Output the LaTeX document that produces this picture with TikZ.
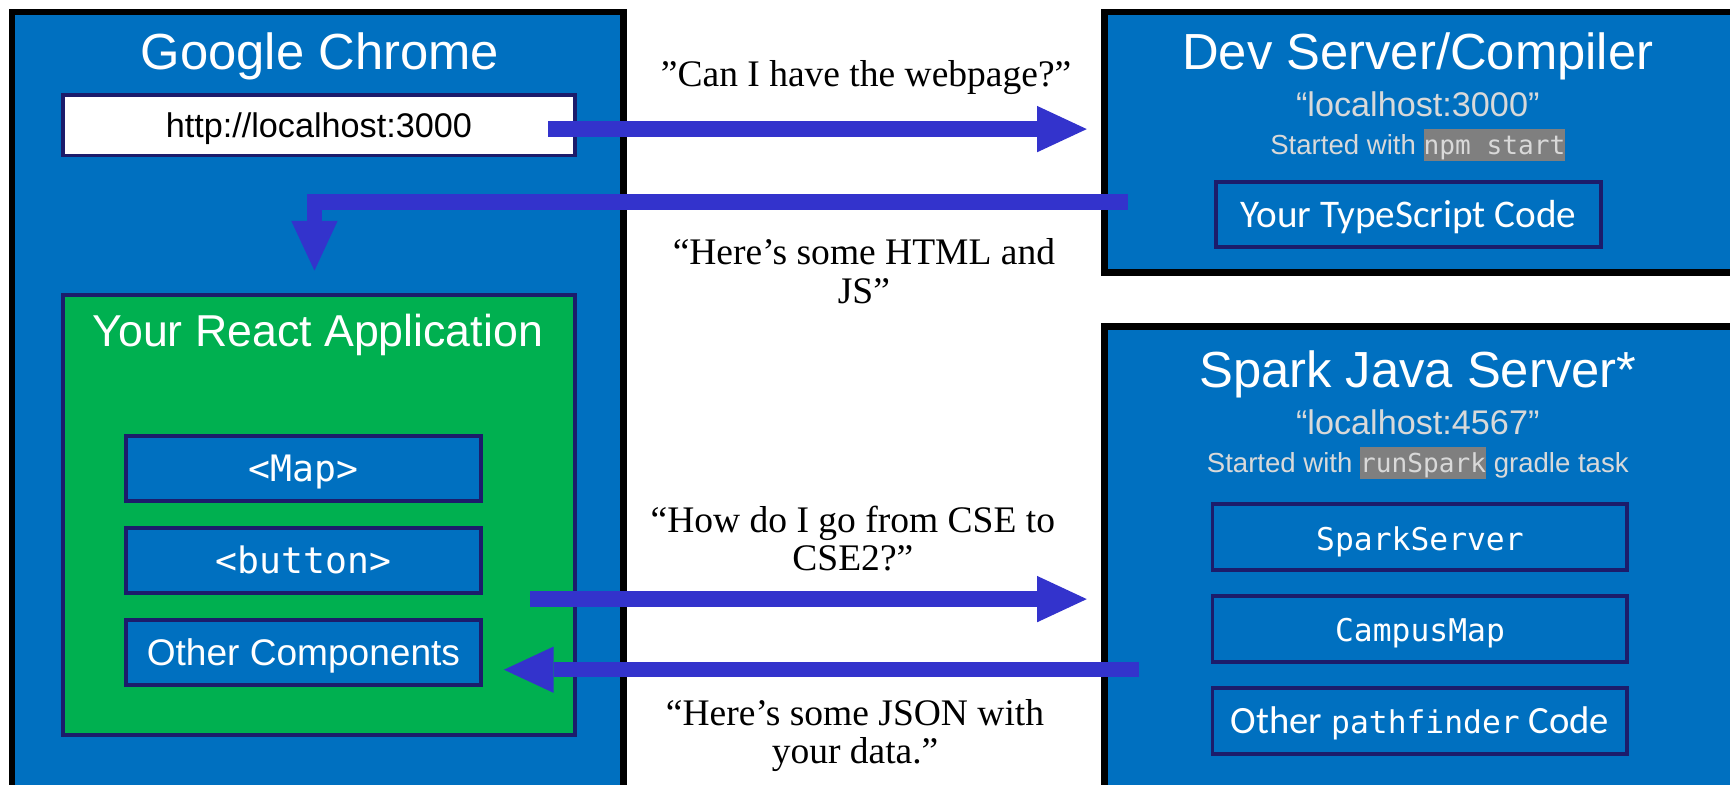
\documentclass[tikz,border=0pt]{standalone}
\usepackage{fontspec}
\setmainfont{Liberation Serif}
\setsansfont{Liberation Sans}
\setmonofont{DejaVu Sans Mono}
\newfontfamily\calibri{Carlito}
\usetikzlibrary{arrows.meta, positioning, calc}

\definecolor{boxBlue}{HTML}{0070C0}
\definecolor{appGreen}{HTML}{00B050}
\definecolor{edgeNavy}{HTML}{1C1C6B}
\definecolor{flowBlue}{HTML}{3333CC}
\definecolor{noteGray}{HTML}{D9D9D9}
\definecolor{codeGray}{HTML}{7F7F7F}

\newcommand{\hlcode}[1]{{\setlength{\fboxsep}{0pt}\colorbox{codeGray}{\rule[-6pt]{0pt}{29pt}\fontsize{23.7}{26}\selectfont\ttfamily #1}}}

\begin{document}
\begin{tikzpicture}[x=1pt, y=1pt,
  machine/.style={draw=black, line width=6pt, fill=boxBlue},
  part/.style={draw=edgeNavy, line width=3.5pt, fill=boxBlue, text=white, inner sep=0pt, text height=30pt, text depth=7pt},
  comp/.style={part, minimum width=322pt, minimum height=59pt},
  module/.style={part, minimum width=376pt, minimum height=60pt},
  heading/.style={text=white, anchor=base, font=\fontsize{46}{50}\selectfont\sffamily},
  note/.style={text=noteGray, anchor=base, font=\fontsize{31}{34}\selectfont\sffamily},
  started/.style={text=noteGray, anchor=base, font=\fontsize{25}{28}\selectfont\sffamily},
  said/.style={text=black, align=center, font=\fontsize{34}{35}\selectfont\rmfamily},
  flow/.style={draw=flowBlue, line width=14pt, -{Triangle[length=45pt, width=42pt, line width=0pt]}}
]
\useasboundingbox (0,0) rectangle (1568,-711);
\clip (0,0) rectangle (1568,-711);

% the three machines
\node[machine, minimum width=554pt, minimum height=749pt] (chrome) at (288,-385.5) {};
\node[machine, minimum width=599pt, minimum height=236pt] (dev) at (1300.5,-129) {};
\node[machine, minimum width=599pt, minimum height=464pt] (spark) at (1300.5,-528) {};

% browser side
\node[heading] (chromeTitle) at (290,-63) {Google Chrome};
\node[part, fill=white, text=black, minimum width=464pt, minimum height=55pt, font=\fontsize{31}{34}\selectfont\sffamily] (url) at (289,-113.5) {http://localhost:3000};
\node[part, fill=appGreen, minimum width=464pt, minimum height=399pt] (react) at (289,-466.5) {};
\node[heading, font=\fontsize{40.5}{44}\selectfont\sffamily] (reactTitle) at (288,-314) {Your React Application};
\node[comp, font=\fontsize{33}{36}\selectfont\ttfamily] (mapComp) at (275,-424.5) {<Map>};
\node[comp, font=\fontsize{33}{36}\selectfont\ttfamily] (buttonComp) at (275,-508) {<button>};
\node[comp, font=\fontsize{33.6}{36}\selectfont\sffamily] (otherComp) at (275,-591.5) {Other Components};

% dev server
\node[heading] (devTitle) at (1285,-63) {Dev Server/Compiler};
\node[note] (devHost) at (1285,-106) {“localhost:3000”};
\node[started] (devStart) at (1285,-140) {Started with \hlcode{npm start}};
\node[part, minimum width=349pt, minimum height=59pt, font=\fontsize{35.5}{38}\selectfont\calibri] (tsCode) at (1276.5,-194.5) {Your TypeScript Code};

% spark server
\node[heading] (sparkTitle) at (1285,-351) {Spark Java Server*};
\node[note] (sparkHost) at (1285,-394) {“localhost:4567”};
\node[started] (sparkStart) at (1285,-428) {Started with \hlcode{runSpark} gradle task};
\node[module, font=\fontsize{28.4}{32}\selectfont\ttfamily] (sparkServer) at (1287,-487) {SparkServer};
\node[module, font=\fontsize{28.4}{32}\selectfont\ttfamily] (campusMap) at (1287,-570) {CampusMap};
\node[module, font=\fontsize{35}{38}\selectfont\calibri] (pathCode) at (1287,-653.5) {Other {\fontsize{28.4}{32}\selectfont\ttfamily pathfinder} Code};

% requests and replies
\draw[flow] ($(url.east)+(-26,-3.5)$) -- ($(url.east -| dev.west)+(-13,-3.5)$);
\draw[flow] ($(dev.south west)+(24,67)$) -| ($(react.north)+(-4,20)$);
\draw[flow] ($(react.east)+(-42,-76.5)$) -- ($(react.east -| spark.west)+(-13,-76.5)$);
\draw[flow] ($(react.east -| spark.west)+(34,-140.5)$) -- ($(react.east)+(-66,-140.5)$);

\node[said] (askPage) at (785,-70) {”Can I have the webpage?”};
\node[said] (sendPage) at (783,-245.5) {“Here’s some HTML and\\JS”};
\node[said] (askRoute) at (773,-488) {“How do I go from CSE to\\CSE2?”};
\node[said] (sendRoute) at (775,-666.5) {“Here’s some JSON with\\your data.”};
\end{tikzpicture}
\end{document}
